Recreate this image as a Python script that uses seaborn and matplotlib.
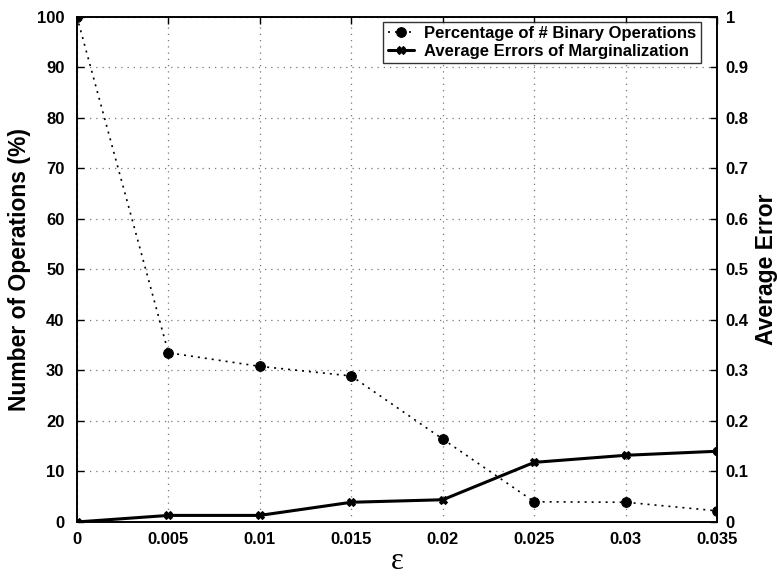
import numpy as np
import pandas as pd
import seaborn as sns
import matplotlib
matplotlib.use('Agg')
import matplotlib.pyplot as plt

# values
eps = [0, 0.005, 0.01, 0.015, 0.02, 0.025, 0.03, 0.035]
pct_ops = [100, 33.5, 30.8, 28.9, 16.4, 4.0, 3.9, 2.2]
avg_err = [0, 0.013, 0.013, 0.039, 0.044, 0.118, 0.132, 0.140]

x_ticks = [0, 0.005, 0.01, 0.015, 0.02, 0.025, 0.03, 0.035]
x_labels = ['0', '0.005', '0.01', '0.015', '0.02', '0.025', '0.03', '0.035']
left_ticks = list(range(0, 101, 10))
right_ticks = [0, 0.1, 0.2, 0.3, 0.4, 0.5, 0.6, 0.7, 0.8, 0.9, 1]
right_labels = ['0', '0.1', '0.2', '0.3', '0.4', '0.5', '0.6', '0.7', '0.8', '0.9', '1']

df = pd.DataFrame({'eps': eps, 'pct': pct_ops, 'err': avg_err})

sns.set_style('white')
plt.rcParams['font.family'] = ['Liberation Sans', 'DejaVu Sans']
plt.rcParams['font.weight'] = 'bold'
plt.rcParams['text.color'] = 'black'
plt.rcParams['axes.labelcolor'] = 'black'
plt.rcParams['xtick.color'] = 'black'
plt.rcParams['ytick.color'] = 'black'

fig = plt.figure(figsize=(7.77, 5.79), dpi=100)
ax = fig.add_axes([0.099, 0.0985, 0.824, 0.8725])
ax2 = ax.twinx()

sns.lineplot(data=df, x='eps', y='pct', ax=ax, color='black', linestyle=(0, (1.2, 3)),
             linewidth=1.2, marker='o', markersize=7, markeredgecolor='black',
             label='Percentage of # Binary Operations', legend=False)
sns.lineplot(data=df, x='eps', y='err', ax=ax2, color='black', linestyle='-',
             linewidth=2.2, marker='X', markersize=5.5, markeredgecolor='black',
             label='Average Errors of Marginalization', legend=False)

ax.set_xlim(0, 0.035)
ax.set_ylim(0, 100)
ax2.set_ylim(0, 1)
ax.set_xticks(x_ticks)
ax.set_xticklabels(x_labels)
ax.set_yticks(left_ticks)
ax2.set_yticks(right_ticks)
ax2.set_yticklabels(right_labels)

ax.grid(True, linestyle=(0, (1, 4)), color='#777777', linewidth=0.9)
for a in (ax, ax2):
    a.tick_params(direction='in', length=5, width=1, labelsize=12)
    for s in a.spines.values():
        s.set_color('black')
        s.set_linewidth(1.2)
    for lab in a.get_xticklabels() + a.get_yticklabels():
        lab.set_fontweight('bold')
ax.tick_params(axis='x', top=True)
ax.tick_params(axis='y', pad=9)
ax.tick_params(axis='x', pad=7)
ax2.tick_params(axis='y', pad=6)

ax.set_xlabel('ε', fontsize=22, family=['Liberation Serif', 'DejaVu Serif'],
              fontweight='normal', labelpad=0)
ax.set_ylabel('Number of Operations (%)', fontsize=16.5, fontweight='bold', labelpad=4)
ax2.set_ylabel('Average Error', fontsize=16.5, fontweight='bold', labelpad=5)

h1, l1 = ax.get_legend_handles_labels()
h2, l2 = ax2.get_legend_handles_labels()
leg = ax2.legend(h1 + h2, l1 + l2, loc='upper right', bbox_to_anchor=(0.974, 0.99),
                 fontsize=12, frameon=True, fancybox=False, edgecolor='black',
                 borderaxespad=0, handlelength=1.6, handletextpad=0.6,
                 borderpad=0.25, labelspacing=0.15)
leg.get_frame().set_linewidth(1.0)
for t in leg.get_texts():
    t.set_fontweight('bold')

fig.savefig('out.png', dpi=100)
